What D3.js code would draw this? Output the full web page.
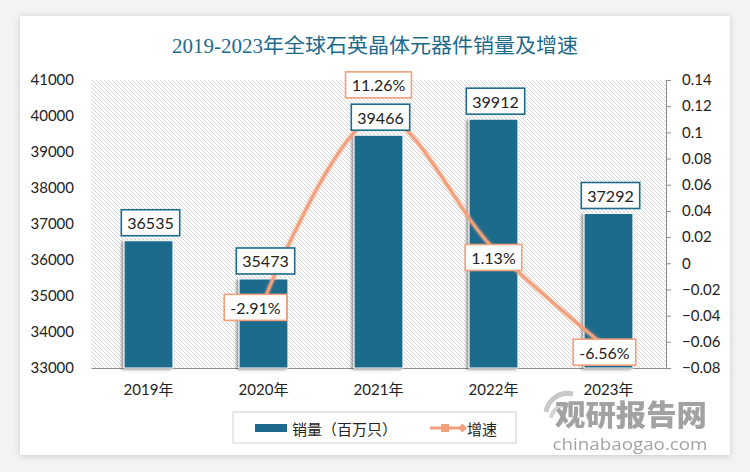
<!DOCTYPE html>
<html><head><meta charset="utf-8">
<script src="https://cdn.jsdelivr.net/npm/d3@7"></script>
<style>
html,body{margin:0;padding:0;background:#f3f3f3;}
svg{display:block;}
</style></head>
<body>
<svg id="chart" width="750" height="472"></svg>
<script>
const title = "2019-2023年全球石英晶体元器件销量及增速";
const categories = ["2019年","2020年","2021年","2022年","2023年"];
const sales = [36535, 35473, 39466, 39912, 37292];
const growth = [null, -0.0291, 0.1126, 0.0113, -0.0656];
const growthLabels = [null, "-2.91%", "11.26%", "1.13%", "-6.56%"];
const leftTicks = [33000,34000,35000,36000,37000,38000,39000,40000,41000];
const rightTicks = [-0.08,-0.06,-0.04,-0.02,0,0.02,0.04,0.06,0.08,0.1,0.12,0.14];
const legendNames = ["销量（百万只）","增速"];

const svg = d3.select("#chart");
const W = 750, H = 472;
const barColor = "#1d6a8c", lineColor = "#f0a07b", textColor = "#222";
const fontNum = "Lato, 'Noto Sans CJK SC', sans-serif";

const defs = svg.append("defs");
const cardF = defs.append("filter").attr("id","cardShadow").attr("x","-5%").attr("y","-5%").attr("width","110%").attr("height","110%");
cardF.append("feDropShadow").attr("dx",0).attr("dy",1).attr("stdDeviation",3).attr("flood-color","#000").attr("flood-opacity",0.18);
const barF = defs.append("filter").attr("id","barShadow").attr("x","-30%").attr("y","-10%").attr("width","160%").attr("height","120%");
barF.append("feDropShadow").attr("dx",-2).attr("dy",1).attr("stdDeviation",1.5).attr("flood-color","#000").attr("flood-opacity",0.45);
const lineF = defs.append("filter").attr("id","lineGlow").attr("x","-10%").attr("y","-10%").attr("width","120%").attr("height","120%");
lineF.append("feGaussianBlur").attr("in","SourceGraphic").attr("stdDeviation",1.5).attr("result","b");
const fm = lineF.append("feMerge");
fm.append("feMergeNode").attr("in","b");
fm.append("feMergeNode").attr("in","SourceGraphic");
const pat = defs.append("pattern").attr("id","hatch").attr("patternUnits","userSpaceOnUse").attr("width",4).attr("height",4);
pat.append("rect").attr("width",4).attr("height",4).attr("fill","#ffffff");
pat.append("path").attr("d","M-1,-1 L5,5 M-1,3 L1,5 M3,-1 L5,1").attr("stroke","#d6d6d6").attr("stroke-width",1);

// background card
svg.append("rect").attr("x",0).attr("y",0).attr("width",W).attr("height",H).attr("fill","#f3f3f3");
svg.append("rect").attr("x",20).attr("y",16).attr("width",710).attr("height",439).attr("fill","#fff").attr("filter","url(#cardShadow)");

// title
svg.append("text").attr("x",375).attr("y",53).attr("text-anchor","middle")
  .attr("font-family","'Liberation Serif','Noto Sans CJK SC',serif").attr("font-size",20)
  .attr("fill","#1b6a8d").attr("textLength",406).attr("lengthAdjust","spacingAndGlyphs").text(title);

const pl = 91, pr = 666, pt = 80, pb = 368;
const x = d3.scaleBand().domain(categories).range([pl,pr]).paddingInner(0.575).paddingOuter(0.2875);
const yL = d3.scaleLinear().domain([33000,41000]).range([pb,pt]);
const yR = d3.scaleLinear().domain([-0.08,0.14]).range([pb,pt]);

// plot background hatch
svg.append("rect").attr("x",pl).attr("y",pt).attr("width",pr-pl).attr("height",pb-pt).attr("fill","url(#hatch)");

// left axis
const gL = svg.append("g").attr("transform",`translate(${pl},0)`)
  .call(d3.axisLeft(yL).tickValues(leftTicks).tickSize(0).tickPadding(17).tickFormat(d3.format("d")));
gL.select(".domain").remove();
gL.selectAll("text").attr("font-family",fontNum).attr("font-size",15).attr("fill",textColor);

// right axis
const gR = svg.append("g").attr("transform",`translate(${pr},0)`)
  .call(d3.axisRight(yR).tickValues(rightTicks).tickSize(5).tickPadding(11).tickSizeOuter(5).tickFormat(d => d3.format("")(+d.toFixed(2))));
gR.select(".domain").attr("stroke","#8c8c8c");
gR.selectAll(".tick line").attr("stroke","#8c8c8c");
gR.selectAll("text").attr("font-family",fontNum).attr("font-size",15).attr("fill",textColor);

// bottom axis
const gB = svg.append("g").attr("transform",`translate(0,${pb})`)
  .call(d3.axisBottom(x).tickSize(0).tickPadding(16));
gB.select(".domain").attr("stroke","#8c8c8c").attr("stroke-width",1.2);
gB.selectAll("text").attr("font-family",fontNum).attr("font-size",15).attr("fill",textColor);

// bars
svg.append("g").selectAll("rect").data(sales).join("rect")
  .attr("x",(d,i)=>x(categories[i])).attr("width",x.bandwidth())
  .attr("y",d=>yL(d)).attr("height",d=>pb-yL(d))
  .attr("fill",barColor).attr("stroke","#fff").attr("stroke-width",1)
  .attr("filter","url(#barShadow)");

// growth line
const gData = growth.map((v,i)=>({v,i})).filter(d=>d.v!==null);
const line = d3.line().x(d=>x(categories[d.i])+x.bandwidth()/2).y(d=>yR(d.v)).curve(d3.curveCatmullRom.alpha(0.5));
svg.append("path").datum(gData).attr("d",line).attr("fill","none").attr("stroke",lineColor)
  .attr("stroke-width",3).attr("stroke-linecap","round").attr("filter","url(#lineGlow)");

// bar value labels
function labelBox(g, cx, cy, txt, stroke){
  const t = g.append("text").attr("x",cx).attr("y",cy).attr("text-anchor","middle").attr("dominant-baseline","central")
    .attr("font-family",fontNum).attr("font-size",16).attr("fill",textColor).text(txt);
  const bb = t.node().getBBox();
  g.insert("rect","text").attr("x",cx-bb.width/2-6).attr("y",cy-13).attr("width",bb.width+12).attr("height",26)
    .attr("fill","#fff").attr("stroke",stroke).attr("stroke-width",1.6);
}
sales.forEach((v,i)=>{
  const g = svg.append("g");
  labelBox(g, x(categories[i])+x.bandwidth()/2 + 2, yL(v)-18, String(v), barColor);
});
const maxG = d3.max(gData, d=>d.v);
gData.forEach(d=>{
  const g = svg.append("g");
  const cx = x(categories[d.i])+x.bandwidth()/2;
  let dx = 0, dy = 0;
  if (d.v === maxG) dy = -31;
  else if (d.v > 0) dy = 9;
  else if (d.i === 1) { dx = -8; dy = 6; }
  else { dx = -4; dy = 3; }
  labelBox(g, cx+dx, yR(d.v)+dy, growthLabels[d.i], lineColor);
});

// legend
const lg = svg.append("g");
lg.append("rect").attr("x",233).attr("y",412).attr("width",283).attr("height",31).attr("fill","#fff").attr("stroke","#d0d0d0");
lg.append("rect").attr("x",255).attr("y",424).attr("width",32).attr("height",8).attr("fill",barColor);
lg.append("text").attr("x",292).attr("y",428).attr("dominant-baseline","central").attr("font-family","'Noto Sans CJK SC',sans-serif")
  .attr("font-size",15).attr("fill",textColor).text(legendNames[0]);
lg.append("line").attr("x1",430).attr("x2",462).attr("y1",428).attr("y2",428).attr("stroke",lineColor).attr("stroke-width",3);
lg.append("rect").attr("x",441).attr("y",424).attr("width",8).attr("height",8).attr("fill",lineColor);
lg.append("path").attr("d","M458,428 L462.5,423.5 L467,428 L462.5,432.5 Z").attr("fill",lineColor);
lg.append("text").attr("x",467).attr("y",428).attr("dominant-baseline","central").attr("font-family","'Noto Sans CJK SC',sans-serif")
  .attr("font-size",15).attr("fill",textColor).text(legendNames[1]);

// watermark
const wm = svg.append("g").attr("opacity",0.9);
wm.append("path").attr("d","M546,412 A22,22 0 0 1 573,394").attr("fill","none").attr("stroke","#c4c4c4").attr("stroke-width",5);
wm.append("path").attr("d","M551,418 A16,16 0 0 1 570,405").attr("fill","none").attr("stroke","#d0d0d0").attr("stroke-width",4);
wm.append("text").attr("x",631).attr("y",426).attr("text-anchor","middle").attr("font-family","'Noto Sans CJK SC',sans-serif")
  .attr("font-weight","900").attr("font-size",29).attr("fill","#999").attr("textLength",152).attr("lengthAdjust","spacingAndGlyphs").text("观研报告网");
wm.append("text").attr("x",630).attr("y",450).attr("text-anchor","middle").attr("font-family","'Open Sans',sans-serif")
  .attr("font-size",16).attr("fill","#999").attr("textLength",155).attr("lengthAdjust","spacingAndGlyphs").text("chinabaogao.com");
</script>
</body></html>
